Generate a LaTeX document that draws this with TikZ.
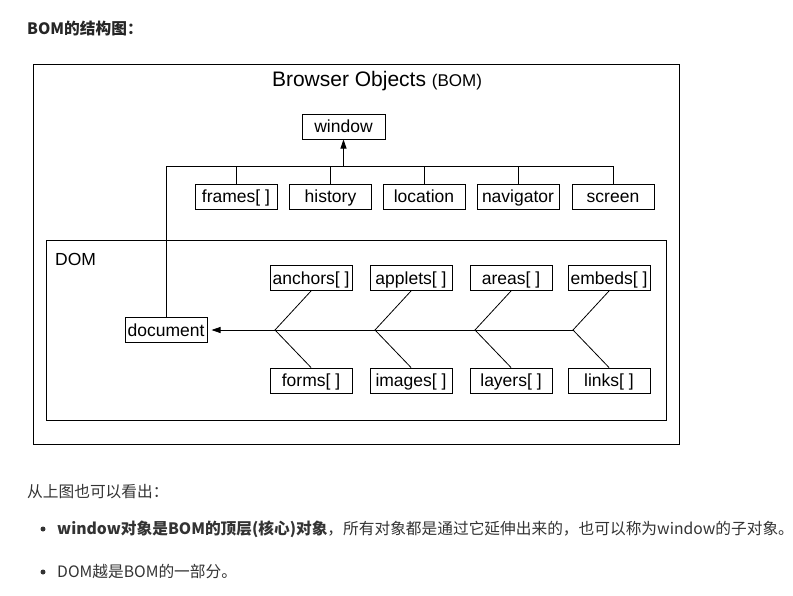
\documentclass[tikz,border=0pt]{standalone}
\usepackage{fontspec}
\setmainfont{Liberation Sans}
\newfontfamily\cjk{Noto Sans CJK SC}
\usetikzlibrary{arrows.meta}
\definecolor{txtgray}{HTML}{333333}

\begin{document}
\begin{tikzpicture}[
        x=1pt, y=-1pt,
        obj/.style={draw, line width=1pt, inner sep=0pt, minimum width=82pt,
            minimum height=25pt, text height=14.1pt, text depth=2.1pt,
            font=\fontsize{17.5}{20}\selectfont},
        frame/.style={draw, line width=1pt},
        link/.style={line width=0.8pt},
        tip/.style={-{Triangle[length=9pt,width=6pt]}},
        note/.style={anchor=west, inner sep=0pt, text=txtgray,
            font=\cjk\fontsize{15.7}{18}\selectfont},
        bullet/.style={circle, fill=txtgray, inner sep=0pt, minimum size=5pt},
        ]
    \useasboundingbox (0,0) rectangle (793,595);

    % BOM and DOM frames
    \draw[frame] (33,64) rectangle (679,444);
    \draw[frame] (46,240) rectangle (666,420);
    \node (title) at (377,81) {{\fontsize{21}{24}\selectfont Browser Objects }%
        {\fontsize{17}{20}\selectfont (BOM)}};
    \node (domlabel) [anchor=west, inner sep=0pt, font=\fontsize{17.5}{20}\selectfont]
        at (55,259) {DOM};

    % window and its children
    \node (window) [obj, minimum width=83pt] at (343.5,126.5) {window};
    \node (frames) [obj] at (236,196.5) {frames[ ]};
    \node (history) [obj] at (330.5,196.5) {history};
    \node (location) [obj] at (424,196.5) {location};
    \node (navigator) [obj] at (518,196.5) {navigator};
    \node (screen) [obj] at (613,196.5) {screen};
    \node (document) [obj] at (166,330) {document};
    \coordinate (bus) at (0,166.5);

    \draw[link] (document.north) |- (screen.north |- bus) -- (screen.north);
    \foreach \n in {frames,history,location,navigator}
        \draw[link] (\n.north) -- (\n.north |- bus);
    \draw[link, tip] (window.south |- bus) -- (window.south);

    % document collections
    \node (anchors) [obj] at (311,278) {anchors[ ]};
    \node (applets) [obj] at (411,278) {applets[ ]};
    \node (areas) [obj] at (511,278) {areas[ ]};
    \node (embeds) [obj] at (609,278) {embeds[ ]};
    \node (forms) [obj] at (311,380.5) {forms[ ]};
    \node (images) [obj] at (411,380.5) {images[ ]};
    \node (layers) [obj] at (511,380.5) {layers[ ]};
    \node (links) [obj] at (609,380.5) {links[ ]};
    \coordinate (spine) at (0,330);

    \foreach \t/\b in {anchors/forms, applets/images, areas/layers, embeds/links} {
        \coordinate (\t-fork) at ([xshift=-36pt] \t.south |- spine);
        \draw[link] (\t.south) -- (\t-fork) -- (\b.north);
    }
    \draw[link, tip, shorten >=4pt] (embeds-fork) -- (document.east);

    % notes under the picture
    \node (head) [note, text=black!85, font=\cjk\bfseries\fontsize{15.7}{18}\selectfont]
        at (27,28) {BOM的结构图：};
    \node (seen) [note] at (27,492) {从上图也可以看出：};
    \node (dot1) [bullet] at (43,529) {};
    \node (item1) [note] at (57,529)
        {\textbf{window对象是BOM的顶层(核心)对象}，所有对象都是通过它延伸出来的，也可以称为window的子对象。};
    \node (dot2) [bullet] at (43,572) {};
    \node (item2) [note] at (57,572) {DOM越是BOM的一部分。};
\end{tikzpicture}
\end{document}
